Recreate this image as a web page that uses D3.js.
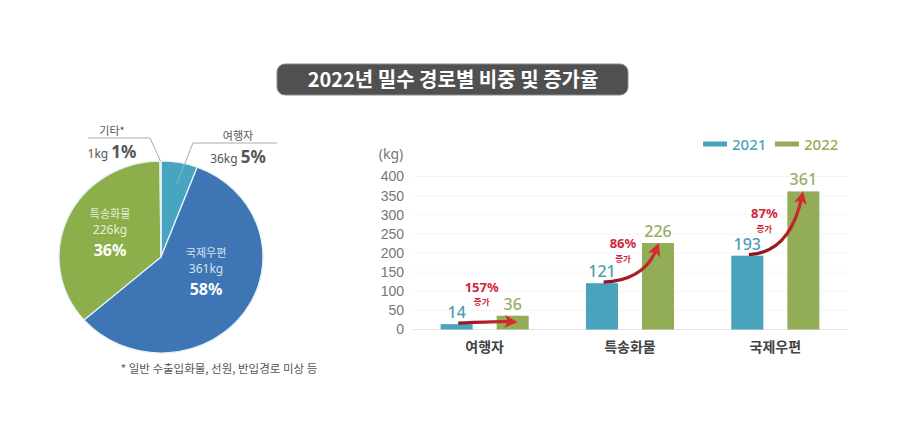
<!DOCTYPE html>
<html>
<head>
  <meta charset="utf-8">
  <script src="https://cdnjs.cloudflare.com/ajax/libs/d3/7.8.5/d3.min.js"></script>
  <style>
    body { margin: 0; background: #fff; }
    svg { font-family: "Noto Sans", "Noto Sans CJK KR", sans-serif; }
    .tick-label { font-size: 14px; fill: #777; }
    .cat-label { font-size: 14px; font-weight: 700; fill: #444; font-family: "Noto Sans CJK KR", sans-serif; }
    .val-label { font-size: 16px; font-weight: 500; }
    .pct-label { font-size: 13px; font-weight: 700; fill: #d0283a; }
    .inc-label { font-size: 8.5px; font-weight: 700; fill: #d0283a; font-family: "Noto Sans CJK KR", sans-serif; }
  </style>
</head>
<body>
  <div id="chart"></div>

  <script>
    // pie data (kg)
    const pieNames = ["여행자", "국제우편", "특송화물", "기타*"];
    const pieKg = [36, 361, 226, 1];
    const piePct = ["5%", "58%", "36%", "1%"];
    const pieColors = ["#48a5c1", "#3e75b4", "#8daf4b", "#dcdcdc"];

    // bar data (kg)
    const categories = ["여행자", "특송화물", "국제우편"];
    const years = ["2021", "2022"];
    const values2021 = [14, 121, 193];
    const values2022 = [36, 226, 361];
    const growthLabels = ["157%", "86%", "87%"];
    const yTicks = [0, 50, 100, 150, 200, 250, 300, 350, 400];
    const barColors = {"2021": "#4aa3bd", "2022": "#92ad55"};
    const valueColors = {"2021": "#4a9fb4", "2022": "#97ad66"};

    const svg = d3.select("#chart")
      .append("svg")
        .attr("width", 900)
        .attr("height", 438);

    // Title
    svg.append("rect")
      .attr("x", 277).attr("y", 64)
      .attr("width", 351).attr("height", 31)
      .attr("rx", 8)
      .attr("fill", "#505050")
      .attr("stroke", "#8a8a8a")
      .attr("stroke-width", 1);

    svg.append("text")
      .attr("x", 453).attr("y", 87)
      .attr("text-anchor", "middle")
      .style("font-family", "'Noto Sans CJK KR', sans-serif")
      .style("font-size", "20px")
      .style("font-weight", "700")
      .attr("fill", "#fff")
      .text("2022년 밀수 경로별 비중 및 증가율");

    // ---- Pie ----
    const cx = 161, cy = 257, rx = 102, ry = 96;
    const pieG = svg.append("g")
      .attr("transform", `translate(${cx},${cy}) scale(${rx / 100},${ry / 100})`);

    const pie = d3.pie().sort(null).value(d => d);
    const arcs = pie(pieKg);
    const arc = d3.arc().innerRadius(0).outerRadius(100);

    pieG.selectAll("path")
      .data(arcs)
      .join("path")
      .attr("d", arc)
      .attr("fill", (d, i) => pieColors[i])
      .attr("stroke", "#e6f1f7")
      .attr("stroke-width", 1.3);

    // inside labels: offset of the percent baseline from the pie center
    const insideAt = {1: [45, 38], 2: [-51, -1]};
    Object.keys(insideAt).forEach(k => {
      const i = +k;
      const [dx, dy] = insideAt[k];
      const g = svg.append("g")
        .attr("transform", `translate(${cx + dx},${cy + dy})`)
        .attr("text-anchor", "middle")
        .attr("fill", "#fff");
      g.append("text").attr("y", -38).style("font-size", "11px")
        .style("font-family", "'Noto Sans CJK KR', sans-serif")
        .attr("fill-opacity", 0.8).text(pieNames[i]);
      g.append("text").attr("y", -22).style("font-size", "12px").attr("fill-opacity", 0.8).text(pieKg[i] + "kg");
      g.append("text").attr("y", 0).style("font-size", "16px").style("font-weight", "700").text(piePct[i]);
    });

    // outside labels with leader lines
    function outsideLabel(i, lineX1, lineX2, lineY, tipAngleFrac, tipR, textX) {
      const a = arcs[i];
      const ang = a.startAngle + (a.endAngle - a.startAngle) * tipAngleFrac;
      const tx = cx + Math.sin(ang) * rx * tipR;
      const ty = cy - Math.cos(ang) * ry * tipR;
      const jx = i === 0 ? lineX1 : lineX2;
      svg.append("path")
        .attr("d", `M${lineX1},${lineY}H${lineX2}M${jx},${lineY}L${tx},${ty}`)
        .attr("fill", "none")
        .attr("stroke", "#aaa")
        .attr("stroke-width", 1);
      svg.append("text")
        .attr("x", textX).attr("y", lineY - 3)
        .attr("text-anchor", "middle")
        .style("font-size", "11px")
        .style("font-family", "'Noto Sans CJK KR', sans-serif")
        .attr("fill", "#555")
        .text(pieNames[i]);
      const t = svg.append("text")
        .attr("x", textX).attr("y", lineY + 20)
        .attr("text-anchor", "middle")
        .attr("fill", "#555");
      t.append("tspan").style("font-size", "12px").text(pieKg[i] + "kg ");
      t.append("tspan").style("font-size", "17px").style("font-weight", "700").text(piePct[i]);
    }
    outsideLabel(3, 88, 150, 138, 0.5, 1.0, 112);
    outsideLabel(0, 193, 277, 143, 0.55, 0.78, 238);

    svg.append("text")
      .attr("x", 219).attr("y", 373)
      .attr("text-anchor", "middle")
      .style("font-size", "11.5px")
      .style("font-family", "'Noto Sans CJK KR', sans-serif")
      .attr("fill", "#555")
      .text("* 일반 수출입화물, 선원, 반입경로 미상 등");

    // ---- Bars ----
    const x0 = d3.scaleBand()
      .domain(categories)
      .range([412, 848])
      .paddingInner(0.394)
      .paddingOuter(0.197);

    const x1 = d3.scaleBand()
      .domain(years)
      .range([0, x0.bandwidth()])
      .paddingInner(0.4286);

    const y = d3.scaleLinear()
      .domain([0, 400])
      .range([329.5, 176.5]);

    // faint grid
    svg.selectAll(".grid")
      .data(yTicks.filter(d => d > 0))
      .join("line")
      .attr("x1", 412).attr("x2", 848)
      .attr("y1", d => y(d)).attr("y2", d => y(d))
      .attr("stroke", "#f5f5f5");

    const yAxis = svg.append("g")
      .attr("transform", "translate(404,0)")
      .call(d3.axisLeft(y).tickValues(yTicks).tickSize(0).tickPadding(0));
    yAxis.select(".domain").remove();
    yAxis.selectAll("text")
      .attr("class", "tick-label")
      .attr("font-family", null)
      .attr("font-size", null);

    svg.append("text")
      .attr("x", 391).attr("y", 159)
      .attr("text-anchor", "middle")
      .attr("class", "tick-label")
      .text("(kg)");

    svg.append("line")
      .attr("x1", 412).attr("x2", 848)
      .attr("y1", y(0)).attr("y2", y(0))
      .attr("stroke", "#e2e2e2")
      .attr("stroke-width", 1.2);

    const rows = categories.map((c, i) => ({cat: c, "2021": values2021[i], "2022": values2022[i], i}));

    const groups = svg.selectAll(".group")
      .data(rows)
      .join("g")
      .attr("transform", d => `translate(${x0(d.cat)},0)`);

    groups.selectAll("rect")
      .data(d => years.map(yr => ({yr, v: d[yr]})))
      .join("rect")
      .attr("x", d => x1(d.yr))
      .attr("y", d => y(d.v))
      .attr("width", x1.bandwidth())
      .attr("height", d => y(0) - y(d.v))
      .attr("fill", d => barColors[d.yr]);

    groups.selectAll(".val-label")
      .data(d => years.map(yr => ({yr, v: d[yr]})))
      .join("text")
      .attr("class", "val-label")
      .attr("x", d => x1(d.yr) + x1.bandwidth() / 2)
      .attr("y", d => y(d.v) - 6)
      .attr("text-anchor", "middle")
      .attr("fill", d => valueColors[d.yr])
      .text(d => d.v);

    svg.selectAll(".cat-label")
      .data(categories)
      .join("text")
      .attr("class", "cat-label")
      .attr("x", d => x0(d) + x0.bandwidth() / 2)
      .attr("y", 352)
      .attr("text-anchor", "middle")
      .text(d => d);

    // growth arrows
    const defs = svg.append("defs");
    defs.append("marker")
      .attr("id", "head")
      .attr("viewBox", "0 0 10 10")
      .attr("refX", 5).attr("refY", 5)
      .attr("markerWidth", 4).attr("markerHeight", 4)
      .attr("markerUnits", "strokeWidth")
      .attr("orient", "auto")
      .append("path")
      .attr("d", "M0,0L10,5L0,10L2.5,5Z")
      .attr("fill", "#d42a30");

    const labelDy = [-24, 5, 27];
    rows.forEach((d, i) => {
      const gx = x0(d.cat);
      const sx = gx + x1("2021") + x1.bandwidth() * 0.55;
      const sy = y(d["2021"]) - 1;
      const ex = gx + x1("2022") + x1.bandwidth() * 0.45;
      const ey = y(d["2022"]) + 6;
      const grad = defs.append("linearGradient")
        .attr("id", "g" + i)
        .attr("gradientUnits", "userSpaceOnUse")
        .attr("x1", sx).attr("y1", sy).attr("x2", ex).attr("y2", ey);
      grad.append("stop").attr("offset", 0).attr("stop-color", "#8a1520");
      grad.append("stop").attr("offset", 1).attr("stop-color", "#d42a30");
      svg.append("path")
        .attr("d", `M${sx},${sy}Q${ex - 12},${sy - 2} ${ex},${ey}`)
        .attr("fill", "none")
        .attr("stroke", `url(#g${i})`)
        .attr("stroke-width", 3.2)
        .attr("marker-end", "url(#head)");

      const lx = gx + x0.bandwidth() / 2 - 3 - i * 4;
      const ly = y(d["2022"]) + labelDy[i];
      svg.append("text")
        .attr("class", "pct-label")
        .attr("x", lx).attr("y", ly)
        .attr("text-anchor", "middle")
        .text(growthLabels[i]);
      svg.append("text")
        .attr("class", "inc-label")
        .attr("x", lx).attr("y", ly + 13.5)
        .attr("text-anchor", "middle")
        .text("증가");
    });

    // legend
    const legend = svg.append("g").attr("transform", "translate(703,144)");
    years.forEach((yr, i) => {
      const lg = legend.append("g").attr("transform", `translate(${i * 72},0)`);
      lg.append("rect")
        .attr("x", 0).attr("y", -2.5)
        .attr("width", 24).attr("height", 5)
        .attr("fill", barColors[yr]);
      lg.append("text")
        .attr("x", 29).attr("y", 5.5)
        .style("font-size", "15px")
        .style("font-weight", "500")
        .attr("fill", barColors[yr])
        .text(yr);
    });
  </script>
</body>
</html>
